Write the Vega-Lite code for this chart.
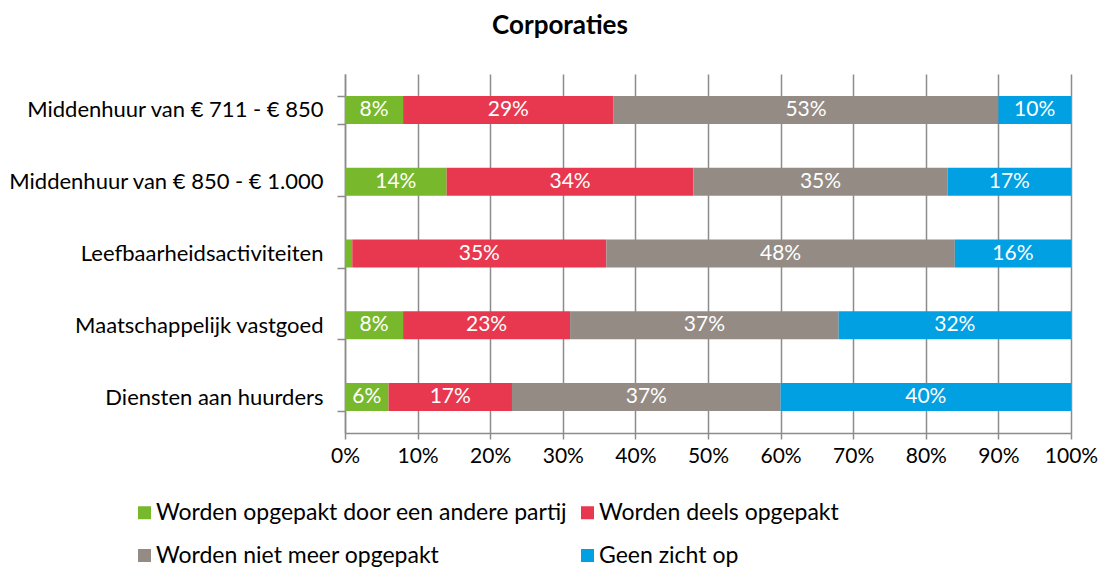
{
  "$schema": "https://vega.github.io/schema/vega-lite/v6.json",
  "autosize": {"type": "none"},
  "width": 726,
  "height": 359,
  "padding": {"left": 345, "top": 74, "right": 29, "bottom": 134},
  "background": "white",
  "title": {
    "text": "Corporaties",
    "font": "Lato",
    "fontSize": 26,
    "fontWeight": "bold",
    "color": "#000000",
    "anchor": "middle",
    "frame": "group",
    "dx": -148,
    "offset": 24
  },
  "config": {
    "view": {"stroke": null},
    "font": "Lato"
  },
  "data": {
    "values": [
      {"cat": "Middenhuur van € 711 - € 850", "serie": "Worden opgepakt door een andere partij", "ord": 1, "pct": 0.08},
      {"cat": "Middenhuur van € 711 - € 850", "serie": "Worden deels opgepakt", "ord": 2, "pct": 0.29},
      {"cat": "Middenhuur van € 711 - € 850", "serie": "Worden niet meer opgepakt", "ord": 3, "pct": 0.53},
      {"cat": "Middenhuur van € 711 - € 850", "serie": "Geen zicht op", "ord": 4, "pct": 0.10},
      {"cat": "Middenhuur van € 850 - € 1.000", "serie": "Worden opgepakt door een andere partij", "ord": 1, "pct": 0.14},
      {"cat": "Middenhuur van € 850 - € 1.000", "serie": "Worden deels opgepakt", "ord": 2, "pct": 0.34},
      {"cat": "Middenhuur van € 850 - € 1.000", "serie": "Worden niet meer opgepakt", "ord": 3, "pct": 0.35},
      {"cat": "Middenhuur van € 850 - € 1.000", "serie": "Geen zicht op", "ord": 4, "pct": 0.17},
      {"cat": "Leefbaarheidsactiviteiten", "serie": "Worden opgepakt door een andere partij", "ord": 1, "pct": 0.01},
      {"cat": "Leefbaarheidsactiviteiten", "serie": "Worden deels opgepakt", "ord": 2, "pct": 0.35},
      {"cat": "Leefbaarheidsactiviteiten", "serie": "Worden niet meer opgepakt", "ord": 3, "pct": 0.48},
      {"cat": "Leefbaarheidsactiviteiten", "serie": "Geen zicht op", "ord": 4, "pct": 0.16},
      {"cat": "Maatschappelijk vastgoed", "serie": "Worden opgepakt door een andere partij", "ord": 1, "pct": 0.08},
      {"cat": "Maatschappelijk vastgoed", "serie": "Worden deels opgepakt", "ord": 2, "pct": 0.23},
      {"cat": "Maatschappelijk vastgoed", "serie": "Worden niet meer opgepakt", "ord": 3, "pct": 0.37},
      {"cat": "Maatschappelijk vastgoed", "serie": "Geen zicht op", "ord": 4, "pct": 0.32},
      {"cat": "Diensten aan huurders", "serie": "Worden opgepakt door een andere partij", "ord": 1, "pct": 0.06},
      {"cat": "Diensten aan huurders", "serie": "Worden deels opgepakt", "ord": 2, "pct": 0.17},
      {"cat": "Diensten aan huurders", "serie": "Worden niet meer opgepakt", "ord": 3, "pct": 0.37},
      {"cat": "Diensten aan huurders", "serie": "Geen zicht op", "ord": 4, "pct": 0.40}
    ]
  },
  "transform": [
    {"stack": "pct", "groupby": ["cat"], "sort": [{"field": "ord", "order": "ascending"}], "as": ["x0", "x1"]},
    {"calculate": "(datum.x0 + datum.x1) / 2", "as": "xmid"}
  ],
  "encoding": {
    "y": {
      "field": "cat",
      "type": "nominal",
      "sort": ["Middenhuur van € 711 - € 850", "Middenhuur van € 850 - € 1.000", "Leefbaarheidsactiviteiten", "Maatschappelijk vastgoed", "Diensten aan huurders"],
      "scale": {"paddingInner": 0.61, "paddingOuter": 0.305},
      "axis": {
        "title": null,
        "tickBand": "extent",
        "tickSize": 8,
        "tickColor": "#8c8c8c",
        "tickWidth": 1.5,
        "domainColor": "#8c8c8c",
        "domainWidth": 1.5,
        "labelPadding": 14,
        "labelFontSize": 22,
        "labelLimit": 400,
        "labelColor": "#000000",
        "labelFont": "Lato",
        "grid": false
      }
    }
  },
  "layer": [
    {
      "mark": {"type": "bar", "strokeWidth": 0},
      "encoding": {
        "x": {
          "field": "x0",
          "type": "quantitative",
          "scale": {"domain": [0, 1], "nice": false},
          "axis": {
            "title": null,
            "format": ".0%",
            "values": [0, 0.1, 0.2, 0.3, 0.4, 0.5, 0.6, 0.7, 0.8, 0.9, 1.0],
            "grid": true,
            "gridColor": "#8c8c8c",
            "gridWidth": 1.5,
            "tickSize": 6,
            "tickColor": "#8c8c8c",
            "tickWidth": 1.5,
            "domainColor": "#8c8c8c",
            "domainWidth": 1.5,
            "labelPadding": 6,
            "labelFontSize": 21,
            "labelColor": "#000000",
            "labelFont": "Lato",
            "labelFlush": false
          }
        },
        "x2": {"field": "x1"},
        "color": {
          "field": "serie",
          "type": "nominal",
          "scale": {
            "domain": ["Worden opgepakt door een andere partij", "Worden niet meer opgepakt", "Worden deels opgepakt", "Geen zicht op"],
            "range": ["#77B82C", "#948B85", "#E8384F", "#00A0E3"]
          },
          "legend": {
            "title": null,
            "orient": "none",
            "legendX": -217,
            "legendY": 422,
            "padding": 5,
            "columns": 2,
            "columnPadding": 8,
            "rowPadding": 19,
            "symbolType": "square",
            "symbolSize": 169,
            "symbolStrokeWidth": 0,
            "labelFontSize": 23,
            "labelFont": "Lato",
            "labelColor": "#000000",
            "labelOffset": 0,
            "labelLimit": 600
          }
        }
      }
    },
    {
      "transform": [{"filter": "datum.pct >= 0.03"}],
      "mark": {"type": "text", "color": "white", "fontSize": 21, "font": "Lato", "align": "center", "baseline": "middle"},
      "encoding": {
        "x": {"field": "xmid", "type": "quantitative"},
        "text": {"field": "pct", "type": "quantitative", "format": ".0%"}
      }
    }
  ]
}
